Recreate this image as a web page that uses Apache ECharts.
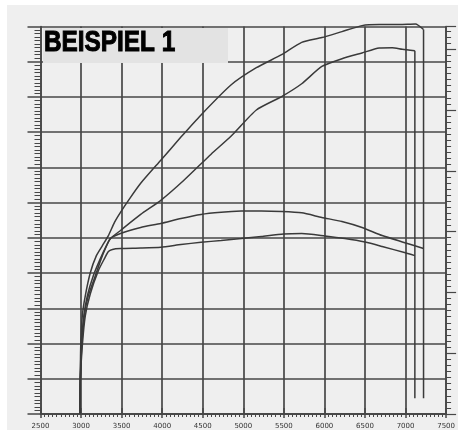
<!DOCTYPE html>
<html>
<head>
<meta charset="utf-8">
<script src="https://cdn.jsdelivr.net/npm/echarts@6/dist/echarts.min.js"></script>
<style>
  html, body { margin: 0; padding: 0; background: #ffffff; }
  #chart { position: absolute; left: 7px; top: 5px; width: 451px; height: 425px; background: #efefef; }
</style>
</head>
<body>
<div id="chart"></div>
<script>
// Dyno run: engine speed (rpm) against output; two runs, each with a power and a torque trace.
const rpmTicks = ['2500', '3000', '3500', '4000', '4500', '5000', '5500', '6000', '6500', '7000', '7500'];
const title = 'BEISPIEL 1';

// Run 1 – power
const powerARpm = [2984, 2990, 2996, 3015, 3052, 3114, 3189, 3263, 3337, 3412, 3486, 3610, 3735, 3983, 4231, 4479, 4851, 5161, 5472, 5720, 5968, 6216, 6464, 6675, 6923, 7122, 7222];
const powerAVal = [0.4, 18.6, 38.6, 55.7, 67.1, 80.2, 89.9, 95.6, 101.3, 108.8, 114.5, 123.0, 131.0, 144.1, 157.2, 169.8, 186.9, 196.6, 204.0, 211.0, 213.7, 217.1, 220.5, 221.1, 221.1, 221.4, 218.3];

// Run 2 – power
const powerBRpm = [2984, 2990, 3002, 3034, 3077, 3151, 3238, 3313, 3362, 3486, 3735, 3983, 4268, 4603, 4851, 5161, 5472, 5720, 5968, 6216, 6464, 6675, 6836, 6960, 7115];
const powerBVal = [0.4, 18.6, 38.6, 55.7, 67.1, 78.5, 88.2, 95.6, 99.6, 104.2, 113.3, 121.3, 132.7, 147.5, 157.8, 172.6, 180.2, 187.5, 197.3, 201.7, 205.0, 207.8, 208.0, 207.1, 206.3];

// Run 1 – torque
const torqueARpm = [2984, 2990, 3009, 3040, 3089, 3176, 3263, 3362, 3486, 3735, 3983, 4231, 4479, 4727, 4975, 5223, 5472, 5720, 5968, 6216, 6464, 6712, 6960, 7222];
const torqueAVal = [0.4, 18.6, 38.6, 55.7, 67.1, 78.5, 89.9, 99.6, 102.5, 105.9, 108.2, 111.0, 113.3, 114.5, 115.2, 115.3, 115.0, 114.2, 111.6, 109.3, 105.9, 101.3, 97.7, 94.0];

// Run 2 – torque
const torqueBRpm = [2984, 2990, 3015, 3052, 3114, 3213, 3288, 3337, 3387, 3486, 3735, 3983, 4231, 4479, 4727, 4975, 5223, 5496, 5720, 6005, 6253, 6501, 6712, 6998, 7115];
const torqueBVal = [0.4, 18.6, 38.6, 55.7, 68.3, 81.4, 88.2, 92.2, 93.4, 93.9, 94.2, 94.7, 96.2, 97.5, 98.5, 99.6, 100.8, 102.2, 102.5, 101.1, 99.6, 97.6, 95.1, 91.5, 89.9];

// Cut-off: where each run stops, the pen drops straight down to this level
const cutRpm = [7222, 7115];
const cutTop = [218.3, 206.3];
const cutBottom = [9.0, 9.0];

const pairs = (xs, ys) => xs.map((x, i) => [x, ys[i]]);

const ink = '#474747';
const trace = '#3a3a3a';

const chart = echarts.init(document.getElementById('chart'), null, { renderer: 'canvas' });

function curve(name, data, smooth) {
  return {
    name, type: 'line', data, showSymbol: false, symbol: 'none',
    clip: false, silent: true, z: 5, smooth,
    lineStyle: { color: trace, width: 1.5 }
  };
}

chart.setOption({
  animation: false,
  backgroundColor: '#efefef',
  grid: { left: 33.5, right: 7.5, top: 21.5, bottom: 12.3 },
  xAxis: [
    {
      type: 'value', position: 'bottom', min: 2500, max: 7500, interval: 500,
      axisLine: { show: true, lineStyle: { color: ink, width: 1.5 } },
      axisTick: { show: true, length: 4, lineStyle: { color: ink, width: 1.5 } },
      minorTick: { show: true, splitNumber: 10, length: 3, lineStyle: { color: ink, width: 1 } },
      splitLine: { show: true, lineStyle: { color: ink, width: 1.7 } },
      axisLabel: {
        show: true, margin: 9, fontSize: 7, color: '#333', fontFamily: 'DejaVu Sans',
        formatter: v => rpmTicks[Math.round((v - 2500) / 500)]
      }
    },
    {
      type: 'value', position: 'top', min: 2500, max: 7500, interval: 500,
      axisLine: { show: true, lineStyle: { color: ink, width: 1.5 } },
      axisTick: { show: true, length: 6, lineStyle: { color: ink, width: 1.5 } },
      splitLine: { show: false }, axisLabel: { show: false }
    }
  ],
  yAxis: [
    {
      type: 'value', position: 'left', min: 0, max: 220, interval: 20,
      axisLine: { show: true, lineStyle: { color: ink, width: 1.5 } },
      axisTick: { show: true, length: 13, lineStyle: { color: ink, width: 1.5 } },
      minorTick: { show: true, splitNumber: 10, length: 6, lineStyle: { color: ink, width: 1 } },
      splitLine: { show: true, lineStyle: { color: ink, width: 1.7 } },
      axisLabel: { show: false }
    },
    {
      type: 'value', position: 'right', min: 0, max: 63.73, interval: 10,
      axisLine: { show: true, lineStyle: { color: ink, width: 1.5 } },
      axisTick: { show: true, length: 10, lineStyle: { color: ink, width: 1.2 } },
      minorTick: { show: true, splitNumber: 10, length: 5, lineStyle: { color: ink, width: 1 } },
      splitLine: { show: false }, axisLabel: { show: false }
    }
  ],
  graphic: [
    {
      type: 'rect', left: 36, top: 23, z: 100,
      shape: { width: 185, height: 35 },
      style: { fill: '#e3e3e3' }
    },
    {
      type: 'text', x: 37, y: 37.5, z: 101, scaleX: 0.84,
      style: {
        text: title, fill: '#000', stroke: '#000', lineWidth: 1,
        font: 'bold 29px "Liberation Sans"', verticalAlign: 'middle', align: 'left'
      }
    }
  ],
  series: [
    curve('Leistung 1', pairs(powerARpm, powerAVal), 0.2),
    curve('Leistung 2', pairs(powerBRpm, powerBVal), 0.2),
    curve('Drehmoment 1', pairs(torqueARpm, torqueAVal), 0.2),
    curve('Drehmoment 2', pairs(torqueBRpm, torqueBVal), 0.2),
    curve('Abschaltung 1', [[cutRpm[0], cutTop[0]], [cutRpm[0], cutBottom[0]]], false),
    curve('Abschaltung 2', [[cutRpm[1], cutTop[1]], [cutRpm[1], cutBottom[1]]], false)
  ]
});
</script>
</body>
</html>
